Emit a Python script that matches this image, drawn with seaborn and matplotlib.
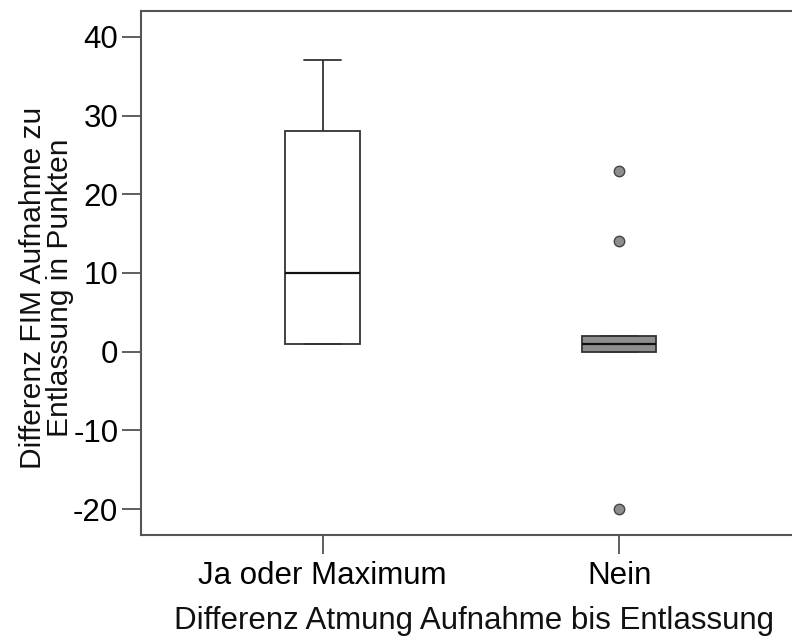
import matplotlib
matplotlib.use("Agg")
import matplotlib.pyplot as plt
import seaborn as sns
import pandas as pd

# Change in FIM score (admission -> discharge) per breathing-outcome group
groups = ["Ja oder Maximum", "Nein"]
ja_values = [1, 1, 10, 28, 37]
nein_values = [-20, 0, 0, 0, 1, 1, 1, 2, 2, 2, 14, 23]
y_ticks = [-20, -10, 0, 10, 20, 30, 40]

df = pd.DataFrame({
    "gruppe": [groups[0]] * len(ja_values) + [groups[1]] * len(nein_values),
    "diff": ja_values + nein_values,
})

sns.set_theme(style="white")
plt.rcParams["font.family"] = ["Liberation Sans", "DejaVu Sans"]

fig = plt.figure(figsize=(7.92, 6.37), dpi=100)
ax = fig.add_axes([0.1775, 0.16, 0.8225, 0.823])

line_col = "#333333"
sns.boxplot(
    data=df, x="gruppe", y="diff", order=groups, hue="gruppe", hue_order=groups,
    palette={groups[0]: "white", groups[1]: "#8e8e8e"}, legend=False,
    width=0.25, whis=1.5, linewidth=1.3, linecolor=line_col,
    medianprops=dict(color="#111111", linewidth=1.6),
    flierprops=dict(marker="o", markersize=7.5, markerfacecolor="#8e8e8e",
                    markeredgecolor="#444444", markeredgewidth=1.0),
    ax=ax,
)

ax.set_ylim(-23.3, 43.3)
ax.set_xlim(-0.613, 1.582)
ax.set_yticks(y_ticks)
ax.set_yticklabels([str(v) for v in y_ticks])

for side in ["left", "top", "bottom"]:
    ax.spines[side].set_visible(True)
    ax.spines[side].set_color("#555555")
    ax.spines[side].set_linewidth(1.5)
ax.spines["right"].set_visible(False)

ax.tick_params(axis="both", which="both", direction="out", length=14,
               width=1.1, color="#333333", labelsize=22.5, labelcolor="black",
               left=True, bottom=True)
ax.tick_params(axis="x", pad=5)
ax.tick_params(axis="y", pad=2)

ax.set_xlabel("Differenz Atmung Aufnahme bis Entlassung", fontsize=22.5,
              color="#111111")
ax.set_ylabel("Differenz FIM Aufnahme zu\nEntlassung in Punkten", fontsize=21.5,
              color="#111111", linespacing=0.95)
ax.xaxis.set_label_coords(0.5118, -0.136)
ax.yaxis.set_label_coords(-0.1022, 0.472)

fig.savefig("out.png", dpi=100)
